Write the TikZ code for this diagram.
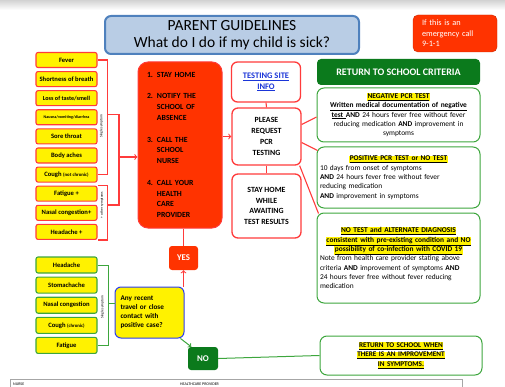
\documentclass[tikz,border=0pt]{standalone}
\usepackage{fontspec}
\setmainfont{Carlito}
\usepackage{xcolor}
\usetikzlibrary{positioning}

\definecolor{titlefill}{HTML}{B9CDE5}
\definecolor{titleline}{HTML}{4F81BD}
\definecolor{alertred}{HTML}{FF3300}
\definecolor{symred}{HTML}{FF3B3B}
\definecolor{darkgreen}{HTML}{0B7A1C}
\definecolor{boxgreen}{HTML}{3DA63D}
\definecolor{qublue}{HTML}{2B3CF0}
\definecolor{linkblue}{HTML}{1A35D8}

\newcommand{\hlt}[1]{{\setlength{\fboxsep}{0.4pt}\colorbox{yellow}{\underline{#1}}}}

\begin{document}
\begin{tikzpicture}[
    x=1pt, y=-1pt,
    every node/.style={font=\fontsize{6}{7}\selectfont},
    symptom/.style={rectangle, rounded corners=2pt, draw=symred, line width=1.1pt, fill=yellow, minimum width=61pt, minimum height=15pt, inner sep=0pt, font=\fontsize{6.6}{7}\selectfont\bfseries},
    mild/.style={symptom, draw=boxgreen, minimum height=16pt},
    sidelabel/.style={rotate=90, font=\fontsize{3.6}{4}\selectfont, inner sep=0.5pt},
    redbox/.style={rectangle, rounded corners=6pt, draw=symred, line width=1.3pt, fill=white, minimum width=69pt, align=center, font=\fontsize{7.9}{10.8}\selectfont\bfseries},
    crit/.style={rectangle, rounded corners=7pt, draw=boxgreen, line width=1pt, fill=white, minimum width=163pt, text width=157pt, inner xsep=3pt, font=\fontsize{7.4}{9.3}\selectfont},
    redline/.style={draw=symred, line width=1.1pt},
    greenline/.style={draw=boxgreen, line width=1pt}
]
\useasboundingbox (0,0) rectangle (505,387);
\shade[top color=gray!35, bottom color=white] (0,0) rectangle (505,10);

% Header
\node[rectangle, rounded corners=6pt, draw=titleline, line width=2pt, fill=titlefill, minimum width=254pt, minimum height=38pt, align=center, font=\fontsize{15.5}{17}\selectfont] (title) at (232,35) {PARENT GUIDELINES\\What do I do if my child is sick?};
\node[rectangle, rounded corners=5pt, fill=alertred, draw=alertred!80!black, line width=0.4pt, minimum width=84pt, minimum height=37pt, text width=66pt, align=left, text=white, font=\fontsize{8.3}{10.5}\selectfont] (emergency) at (455,33.5) {If this is an\\emergency call\\9-1-1};

% Symptoms, red group
\node[symptom] (sym_fever) at (66.5,60) {Fever};
\node[symptom] (sym_breath) [below=3pt of sym_fever] {Shortness of breath};
\node[symptom, font=\fontsize{6.1}{7}\selectfont\bfseries] (sym_taste) [below=3pt of sym_breath] {Loss of taste/smell};
\node[symptom, font=\fontsize{4.1}{5}\selectfont\bfseries] (sym_nausea) [below=3pt of sym_taste] {Nausea/vomiting/diarrhea};
\node[symptom] (sym_throat) [below=3pt of sym_nausea] {Sore throat};
\node[symptom] (sym_aches) [below=3pt of sym_throat] {Body aches};
\node[symptom] (sym_cough) [below=3pt of sym_aches] {Cough {\fontsize{4.8}{5}\selectfont (not chronic)}};
\node[symptom] (sym_fatigue) [below=3pt of sym_cough] {Fatigue +};
\node[symptom] (sym_nasal) [below=3pt of sym_fatigue] {Nasal congestion+};
\node[symptom] (sym_headache) [below=3pt of sym_nasal] {Headache +};

\node[sidelabel] (single_label) at (101.5,126) {Single symptom};
\node[sidelabel] (other_label) at (102,205) {+ other symptoms};
\coordinate (single_mid) at (107,114.5);
\coordinate (other_mid) at (107,205);
\coordinate (join_top) at (119,114.5);
\coordinate (join_mid) at (119,157);
\coordinate (join_bot) at (119,205);

% Steps
\node[rectangle, rounded corners=10pt, fill=alertred, draw=symred, line width=1pt, minimum width=84pt, minimum height=166pt, text width=66pt, inner xsep=9pt, align=left, font=\fontsize{7.8}{10.8}\selectfont\bfseries] (steps) at (180,145) {1. STAY HOME\\[10.8pt]
2. NOTIFY THE\\\phantom{2. }SCHOOL OF\\\phantom{2. }ABSENCE\\[10.8pt]
3. CALL THE\\\phantom{3. }SCHOOL\\\phantom{3. }NURSE\\[10.8pt]
4. CALL YOUR\\\phantom{4. }HEALTH\\\phantom{4. }CARE\\\phantom{4. }PROVIDER};

\node[redbox, minimum height=40pt, text=linkblue, font=\fontsize{8.5}{10.8}\selectfont\bfseries] (testing) at (266,82) {\underline{TESTING SITE}\\\underline{INFO}};
\node[redbox, minimum height=57pt] (pcr) at (266.5,136.5) {PLEASE\\REQUEST\\PCR\\TESTING};
\node[redbox, minimum height=64pt, font=\fontsize{7.9}{10.7}\selectfont\bfseries] (stay) at (266.5,206) {STAY HOME\\WHILE\\AWAITING\\TEST RESULTS};

% Criteria
\node[rectangle, rounded corners=4pt, fill=darkgreen, minimum width=163pt, minimum height=26pt, text=white, font=\fontsize{10}{12}\selectfont\bfseries] (crit_head) at (398.5,72) {RETURN TO SCHOOL CRITERIA};
\node[crit, minimum height=54pt, align=center] (crit_neg) at (398.5,115) {\hlt{\textbf{NEGATIVE PCR TEST}}\\
\textbf{\underline{Written medical documentation of negative}}\\
\textbf{\underline{test }AND} 24 hours fever free without fever\\
reducing medication \textbf{AND} improvement in\\
symptoms};
\node[crit, minimum height=61pt, align=left] (crit_pos) at (398.5,177.5) {\makebox[157pt]{\hlt{\textbf{POSITIVE PCR TEST or NO TEST}}}\\
10 days from onset of symptoms\\
\textbf{AND} 24 hours fever free without fever\\
reducing medication\\
\textbf{AND} improvement in symptoms};
\node[crit, minimum height=90pt, align=left] (crit_none) at (398.5,258) {\makebox[157pt]{\hlt{\textbf{NO TEST and ALTERNATE DIAGNOSIS}}}\\
\makebox[157pt]{\hlt{\textbf{consistent with pre-existing condition and NO}}}\\
\makebox[157pt]{\hlt{\textbf{possibility of co-infection with COVID 19}}}\\
Note from health care provider stating above\\
criteria \textbf{AND} improvement of symptoms \textbf{AND}\\
24 hours fever free without fever reducing\\
medication};

% Symptoms, green group
\node[mild] (grn_headache) at (66.5,265) {Headache};
\node[mild] (grn_stomach) [below=3pt of grn_headache] {Stomachache};
\node[mild] (grn_nasal) [below=3pt of grn_stomach] {Nasal congestion};
\node[mild] (grn_cough) [below=3pt of grn_nasal] {Cough {\fontsize{4.8}{5}\selectfont (chronic)}};
\node[mild] (grn_fatigue) [below=3pt of grn_cough] {Fatigue};
\node[sidelabel] (grn_label) at (102.5,307) {Single symptom};
\coordinate (grn_mid) at (108,303);

% Decision
\node[rectangle, rounded corners=6pt, draw=qublue, line width=1pt, fill=yellow, minimum width=69pt, minimum height=51pt, text width=58pt, align=left, font=\fontsize{7.2}{9}\selectfont\bfseries] (question) at (149.5,312.5) {Any recent\\travel or close\\contact with\\positive case?};
\node[rectangle, rounded corners=3pt, fill=alertred, minimum width=29pt, minimum height=24pt, text=white, font=\fontsize{8.8}{9}\selectfont\bfseries] (yes) at (183.5,258) {YES};
\node[rectangle, rounded corners=3pt, fill=darkgreen, minimum width=30pt, minimum height=23pt, text=white, font=\fontsize{8.8}{9}\selectfont\bfseries] (no) at (203,358.5) {NO};
\node[crit, minimum width=162pt, minimum height=39pt, text width=154pt, align=center, font=\fontsize{7.2}{9.5}\selectfont\bfseries] (return_box) at (401,355.5) {\hlt{RETURN TO SCHOOL WHEN}\\\hlt{THERE IS AN IMPROVEMENT}\\\hlt{IN SYMPTOMS.}};

% Footer strip
\draw[gray!70, line width=0.6pt] (10,379) rectangle (462,395);
\node[anchor=west, inner sep=0pt, font=\fontsize{4}{4}\selectfont] (nurse_label) at (13,384.5) {NURSE};
\node[anchor=west, inner sep=0pt, font=\fontsize{4}{4}\selectfont] (provider_label) at (180,384.5) {HEALTHCARE PROVIDER};

% Connections
\draw[redline] (sym_fever.east) -- ++(10,0) |- (sym_cough.east);
\draw[redline] (sym_fatigue.north east) -- ++(10,0) |- (sym_headache.south east);
\draw[redline] (single_mid) -- (join_top) -- (join_bot) -- (other_mid);
\draw[redline, ->] (join_mid) -- (join_mid -| steps.west);
\draw[redline, ->] (steps.east |- pcr) -- (pcr.west);
\draw[redline] (testing.south) -- (pcr.north);
\draw[redline] (pcr.south) -- (stay.north);
\draw[redline] ([yshift=12pt]pcr.east) -- ([yshift=-2pt]crit_neg.west);
\draw[redline] ([yshift=-6pt]pcr.east) -- ([xshift=1pt,yshift=-4pt]crit_pos.north west);
\draw[redline] ([xshift=-2pt]pcr.south east) -- ([xshift=2pt,yshift=-1pt]crit_none.north west);
\draw[redline] (yes.north |- steps.south) -- (yes.north);
\draw[redline, ->] (yes.south |- question.north) -- (yes.south);
\draw[greenline] (grn_headache.east) -- ++(11,0) |- (grn_fatigue.east);
\draw[greenline] (grn_mid) -- (grn_mid -| question.west);
\draw[greenline, ->] (question.-40) -- (no.135);
\draw[greenline] (no.east) -- (return_box.west);

\end{tikzpicture}
\end{document}
